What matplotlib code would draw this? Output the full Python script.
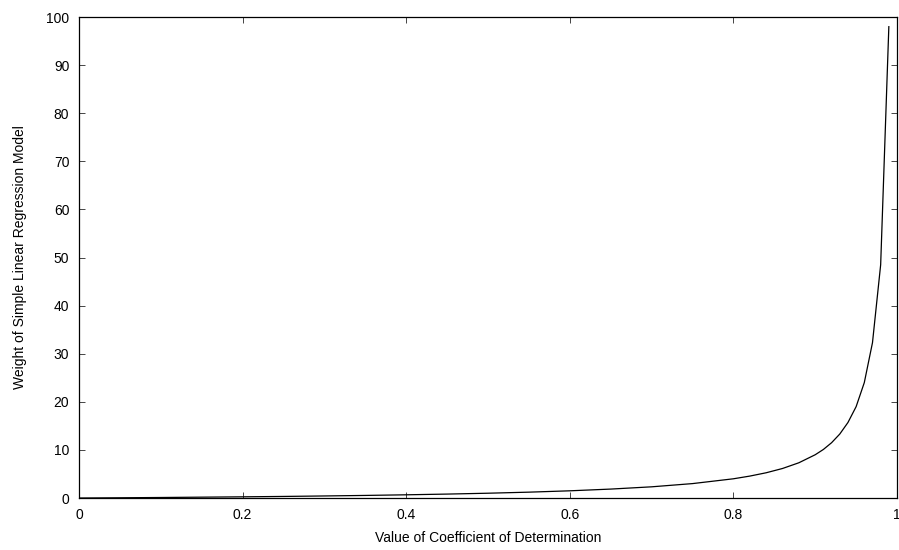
import matplotlib
matplotlib.use("Agg")
import matplotlib.pyplot as plt

# values
r2 = [0, 0.05, 0.1, 0.15, 0.2, 0.25, 0.3, 0.35, 0.4, 0.45, 0.5, 0.55, 0.6, 0.65,
      0.7, 0.75, 0.8, 0.82, 0.84, 0.86, 0.88, 0.9, 0.91, 0.92, 0.93, 0.94, 0.95,
      0.96, 0.97, 0.98, 0.99]
weight = [0, 0.05, 0.11, 0.18, 0.25, 0.33, 0.43, 0.54, 0.67, 0.82, 1.0, 1.22, 1.5,
          1.86, 2.33, 3.0, 4.0, 4.56, 5.25, 6.14, 7.33, 9.0, 10.1, 11.5, 13.3, 15.7,
          19.0, 24.0, 32.3, 48.5, 98.0]

xticks = [0, 0.2, 0.4, 0.6, 0.8, 1]
xticklabels = ["0", "0.2", "0.4", "0.6", "0.8", "1"]
yticks = [0, 10, 20, 30, 40, 50, 60, 70, 80, 90, 100]

plt.rcParams['font.family'] = ['Liberation Sans', 'DejaVu Sans']

fig = plt.figure(figsize=(8.99, 5.5), dpi=100)
ax = fig.add_axes([0.0879, 0.0945, 0.9099, 0.8745])

ax.plot(r2, weight, color='black', linewidth=0.9)

ax.set_xlim(0, 1)
ax.set_ylim(0, 100)
ax.set_xticks(xticks)
ax.set_xticklabels(xticklabels)
ax.set_yticks(yticks)
ax.tick_params(direction='in', length=4.5, width=0.7, top=True, right=True,
               labelsize=10, pad=7, color='#444444')
for s in ax.spines.values():
    s.set_linewidth(0.9)

ax.set_xlabel("Value of Coefficient of Determination", fontsize=10, labelpad=7)
ax.set_ylabel("Weight of Simple Linear Regression Model", fontsize=10, labelpad=14)

fig.savefig("out.png", dpi=100)
